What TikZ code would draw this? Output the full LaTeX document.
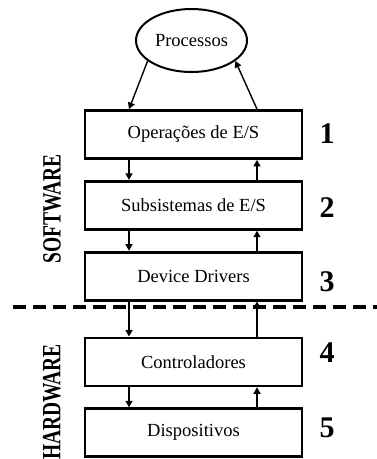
\documentclass[tikz,border=0pt]{standalone}
\usepackage{fontspec}
\setmainfont{Liberation Serif}
\usepackage{tikz}
\usetikzlibrary{arrows.meta,positioning,shapes.geometric}
\tikzset{
  esbox/.style={draw,line width=2.8pt,minimum width=217pt,minimum height=48pt,inner sep=0pt,font=\fontsize{18.5}{20}\selectfont},
  esoval/.style={draw,ellipse,line width=2pt,minimum width=111pt,minimum height=63pt,inner sep=0pt,font=\fontsize{18.5}{20}\selectfont},
  esflow/.style={-{Triangle[length=6.5pt,width=7pt]},line width=1.4pt},
  esnum/.style={font=\fontsize{30}{32}\selectfont\bfseries},
  esside/.style={rotate=90,inner sep=0pt,font=\fontsize{19.5}{22}\selectfont\bfseries},
  essplit/.style={line width=4pt,dash pattern=on 13pt off 7pt},
}

\begin{document}
\begin{tikzpicture}[x=1pt,y=1pt,node distance=20pt]
\useasboundingbox (0,0) rectangle (377,-459);
\node[esoval] (procs) at (191.5,-40.5) {Processos};
\node[esbox] (opes) at (193.5,-134.5) {Operações de E/S};
\node[esbox,below=of opes] (subs) {Subsistemas de E/S};
\node[esbox,below=of subs] (drv) {Device Drivers};
\node[esbox,below=35pt of drv] (ctrl) {Controladores};
\node[esbox,below=of ctrl] (disp) {Dispositivos};
% layer numbers
\node[esnum] (n1) at (327,-134) {1};
\node[esnum] (n2) at (327,-208) {2};
\node[esnum] (n3) at (327,-282) {3};
\node[esnum] (n4) at (327,-353) {4};
\node[esnum] (n5) at (327,-428) {5};
% side labels
\node[esside] (sw) at (52,-209) {\scalebox{1}[1.35]{SOFTWARE}};
\node[esside] (hw) at (52,-402) {\scalebox{1}[1.35]{HARDWARE}};
% software / hardware split
\coordinate (sl) at (13,-307);
\coordinate (sr) at (380,-307);
\draw[essplit] (sl) -- (sr);
% arrows
\coordinate (dnx) at (129,0);
\coordinate (upx) at (257,0);
\draw[esflow] (procs.205) -- (opes.north -| dnx);
\draw[esflow] (opes.north -| upx) -- (procs.-25);
\draw[esflow] (opes.south -| dnx) -- (subs.north -| dnx);
\draw[esflow] (subs.north -| upx) -- (opes.south -| upx);
\draw[esflow] (subs.south -| dnx) -- (drv.north -| dnx);
\draw[esflow] (drv.north -| upx) -- (subs.south -| upx);
\draw[esflow] (drv.south -| dnx) -- (ctrl.north -| dnx);
\draw[esflow] (ctrl.north -| upx) -- (drv.south -| upx);
\draw[esflow] (ctrl.south -| dnx) -- (disp.north -| dnx);
\draw[esflow] (disp.north -| upx) -- (ctrl.south -| upx);
\end{tikzpicture}
\end{document}
